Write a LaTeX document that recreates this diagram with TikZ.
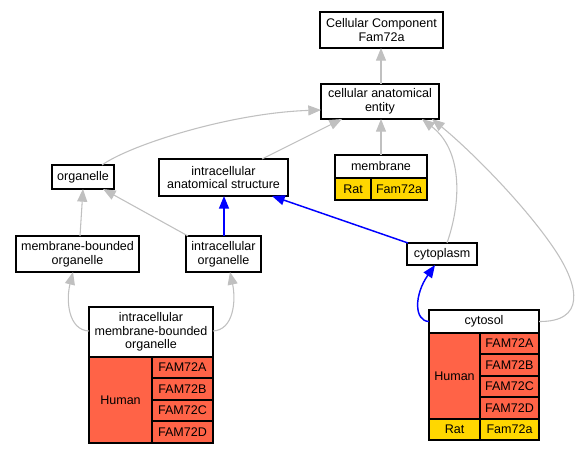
\documentclass[tikz,border=0pt]{standalone}
\usepackage{fontspec}
\setmainfont{Liberation Sans}
\usetikzlibrary{arrows.meta,calc}
\definecolor{tomatoc}{HTML}{FF6347}
\definecolor{goldc}{HTML}{FFD700}
\definecolor{edgegray}{HTML}{C0C0C0}
\tikzset{
  cell/.style={draw=black, line width=0.9pt, inner sep=0pt, outer sep=0pt, align=center, fill=white},
  wd/.style={minimum width=#1*0.75pt},
  ht/.style={minimum height=#1*0.75pt},
  hum/.style={cell, fill=tomatoc},
  rat/.style={cell, fill=goldc},
  isa/.style={draw=edgegray, line width=0.8pt, -{Triangle[length=9.5pt,width=7.5pt]}},
  partof/.style={draw=blue, line width=1.1pt, -{Triangle[length=9.5pt,width=7.5pt]}},
}
\begin{document}
\begin{tikzpicture}[x=0.75pt,y=-0.75pt,font=\fontsize{9.4}{10.2}\selectfont]
\useasboundingbox[fill=white] (0,0) rectangle (578,453);
% nodes
\node[cell,wd=123,ht=36] (ccf) at (381.5,30) {Cellular Component\\Fam72a};
\node[cell,wd=118,ht=35] (cae) at (380,101.5) {cellular anatomical\\entity};
\node[cell,wd=92,ht=23] (mem) at (381,166.5) {membrane};
\node[rat,wd=36,ht=22] (memrat) at (353,189) {Rat};
\node[rat,wd=56,ht=22] (memgene) at (399,189) {Fam72a};
\node[cell,wd=62,ht=24] (org) at (83,177) {organelle};
\node[cell,wd=129,ht=37] (ias) at (223.5,177.5) {intracellular\\anatomical structure};
\node[cell,wd=123,ht=36] (mbo) at (77.5,254) {membrane-bounded\\organelle};
\node[cell,wd=75,ht=36] (io) at (223.5,254) {intracellular\\organelle};
\node[cell,wd=70,ht=22] (cyto) at (442,254) {cytoplasm};
% cytosol table
\node[cell,wd=110,ht=23] (csh) at (484,321.5) {cytosol};
\node[hum,wd=51,ht=86] (cshum) at (454.5,376) {Human};
\node[hum,wd=59,ht=21] (csa) at (509.5,343.5) {FAM72A};
\node[hum,wd=59,ht=22] (csb) at (509.5,365) {FAM72B};
\node[hum,wd=59,ht=21] (csc) at (509.5,386.5) {FAM72C};
\node[hum,wd=59,ht=22] (csd) at (509.5,408) {FAM72D};
\node[rat,wd=51,ht=21] (csrat) at (454.5,429.5) {Rat};
\node[rat,wd=59,ht=21] (csgene) at (509.5,429.5) {Fam72a};
% intracellular membrane-bounded organelle table
\node[cell,wd=124,ht=50] (imbo) at (151,332) {intracellular\\membrane-bounded\\organelle};
\node[hum,wd=63,ht=86] (imhum) at (120.5,400) {Human};
\node[hum,wd=61,ht=21] (ima) at (182.5,367.5) {FAM72A};
\node[hum,wd=61,ht=22] (imb) at (182.5,389) {FAM72B};
\node[hum,wd=61,ht=21] (imc) at (182.5,410.5) {FAM72C};
\node[hum,wd=61,ht=22] (imd) at (182.5,432) {FAM72D};
% edges
\draw[isa] ($(cae.north)+(1,0)$) -- ($(ccf.south)+(-0.5,0)$);
\draw[isa] (mem.north) -- ($(cae.south)+(1,0)$);
\draw[isa] ($(org.north)+(19,0)$) .. controls (130,145) and (230,113) .. ($(cae.west)+(0,8.5)$);
\draw[isa] ($(ias.north)+(38.5,0)$) -- ($(cae.south west)+(21,0)$);
\draw[isa] ($(cyto.north)+(5,0)$) .. controls (462,200) and (462,150) .. ($(cae.south west)+(101,0)$);
\draw[isa] (csh.east) .. controls (585,322) and (580,287.5) .. (555,250) .. controls (525,205) and (470,150) .. ($(cae.south west)+(111,0)$);
\draw[isa] ($(mbo.north)+(2.5,0)$) -- (org.south);
\draw[isa] ($(io.north west)+(2,0)$) -- ($(org.south east)+(-11,0)$);
\draw[partof] ($(io.north)+(0.5,0)$) -- ($(ias.south)+(0.5,0)$);
\draw[partof] ($(cyto.north west)+(1,0)$) -- ($(ias.south east)+(-16,0)$);
\draw[isa] ($(imbo.west)+(0,-1)$) .. controls (68,330) and (66,300) .. ($(mbo.south)+(-4.5,0)$);
\draw[isa] ($(imbo.east)+(0,-1)$) .. controls (234,330) and (236,300) .. ($(io.south)+(6.5,0)$);
\draw[partof] (csh.west) .. controls (414,321) and (414,295) .. ($(cyto.south)+(-7,0)$);
\end{tikzpicture}
\end{document}
